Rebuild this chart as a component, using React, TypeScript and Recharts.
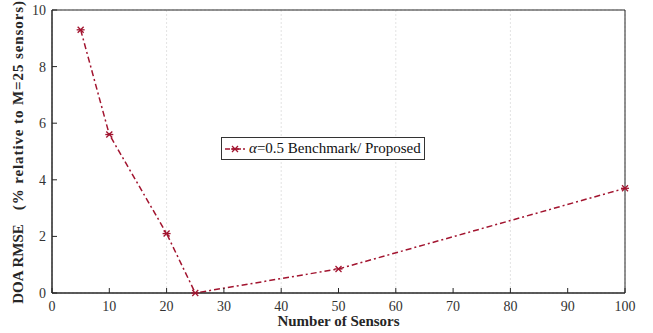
import React from 'react';
import { LineChart, Line, XAxis, YAxis, CartesianGrid, ReferenceArea } from 'recharts';

const sensors = [5, 10, 20, 25, 50, 100];
const rmse = [9.3, 5.6, 2.1, 0.0, 0.85, 3.7];
const xTicks = [0, 10, 20, 30, 40, 50, 60, 70, 80, 90, 100];
const yTicks = [0, 2, 4, 6, 8, 10];
const seriesName = 'Benchmark/ Proposed';

const data = sensors.map((s, i) => ({ x: s, y: rmse[i] }));

const COLOR = '#a2142f';
const FONT = '"Liberation Serif", "DejaVu Serif", serif';

const Star = (props: any) => {
  const { cx, cy } = props;
  if (cx == null || cy == null) return null;
  const r = 4;
  const d = r * 0.75;
  return (
    <g stroke={COLOR} strokeWidth={1.3}>
      <line x1={cx - d} y1={cy - d} x2={cx + d} y2={cy + d} />
      <line x1={cx - d} y1={cy + d} x2={cx + d} y2={cy - d} />
      <line x1={cx - r} y1={cy} x2={cx + r} y2={cy} />
    </g>
  );
};

const LegendBox = () => (
  <div
    style={{
      position: 'absolute',
      left: 221,
      top: 137,
      border: '1px solid #333',
      background: '#fff',
      display: 'inline-flex',
      alignItems: 'center',
      padding: '0 3px 0 2px',
      height: 21,
      fontFamily: FONT,
      fontSize: 15,
      color: '#111',
      whiteSpace: 'nowrap',
    }}
  >
    <svg width={22} height={12} style={{ marginRight: 3 }}>
      <line x1={1} y1={6} x2={21} y2={6} stroke={COLOR} strokeWidth={1.3} strokeDasharray="5 2 2 2" />
      <g stroke={COLOR} strokeWidth={1.3}>
        <line x1={8} y1={3} x2={14} y2={9} />
        <line x1={8} y1={9} x2={14} y2={3} />
        <line x1={7} y1={6} x2={15} y2={6} />
      </g>
    </svg>
    <span>
      <i>α</i>=0.5 {seriesName}
    </span>
  </div>
);

const YLabel = () => {
  const cx = 18;
  const cy = 152;
  return (
    <text
      x={cx}
      y={cy}
      transform={`rotate(-90, ${cx}, ${cy})`}
      textAnchor="middle"
      dominantBaseline="central"
      fontFamily={FONT}
      fontSize={15}
      fontWeight="bold"
      fill="#262626"
    >
      <tspan>DOA RMSE</tspan>
      <tspan dx={14} letterSpacing={0.9}>(% relative to M=25 sensors)</tspan>
    </text>
  );
};

const XLabel = (props: any) => {
  const vb = props.viewBox || {};
  const cx = (vb.x ?? 52) + (vb.width ?? 573) / 2;
  return (
    <text
      x={cx}
      y={326}
      textAnchor="middle"
      fontFamily={FONT}
      fontSize={15}
      fontWeight="bold"
      fill="#262626"
    >
      Number of Sensors
    </text>
  );
};

const tickStyle = { fontFamily: FONT, fontSize: 14, fill: '#333' };

export default function App() {
  return (
    <div style={{ position: 'absolute', left: 0, top: 0, background: '#fff' }}>
      <LineChart
        width={653}
        height={333}
        data={data}
        margin={{ top: 10, right: 28, bottom: 0, left: 0 }}
      >
        <CartesianGrid stroke="#e3e3e3" strokeDasharray="2 2" />
        <XAxis
          xAxisId="b"
          dataKey="x"
          type="number"
          domain={[0, 100]}
          ticks={xTicks}
          height={40}
          tick={tickStyle}
          stroke="#262626"
          tickSize={-5}
          tickMargin={13}
          interval={0}
          label={<XLabel />}
        />
        <YAxis
          yAxisId="l"
          type="number"
          domain={[0, 10]}
          ticks={yTicks}
          width={52}
          tick={tickStyle}
          stroke="#262626"
          tickSize={-5}
          tickMargin={11}
          interval={0}
          label={<YLabel />}
        />
        <ReferenceArea
          xAxisId="b"
          yAxisId="l"
          x1={0}
          x2={100}
          y1={0}
          y2={10}
          fill="none"
          fillOpacity={0}
          stroke="#262626"
          strokeWidth={1}
          ifOverflow="visible"
        />
        <Line
          xAxisId="b"
          yAxisId="l"
          type="linear"
          dataKey="y"
          name={seriesName}
          stroke={COLOR}
          strokeWidth={1.5}
          strokeDasharray="6 3 2 3"
          dot={<Star />}
          activeDot={false}
          isAnimationActive={false}
        />
      </LineChart>
      <LegendBox />
    </div>
  );
}
